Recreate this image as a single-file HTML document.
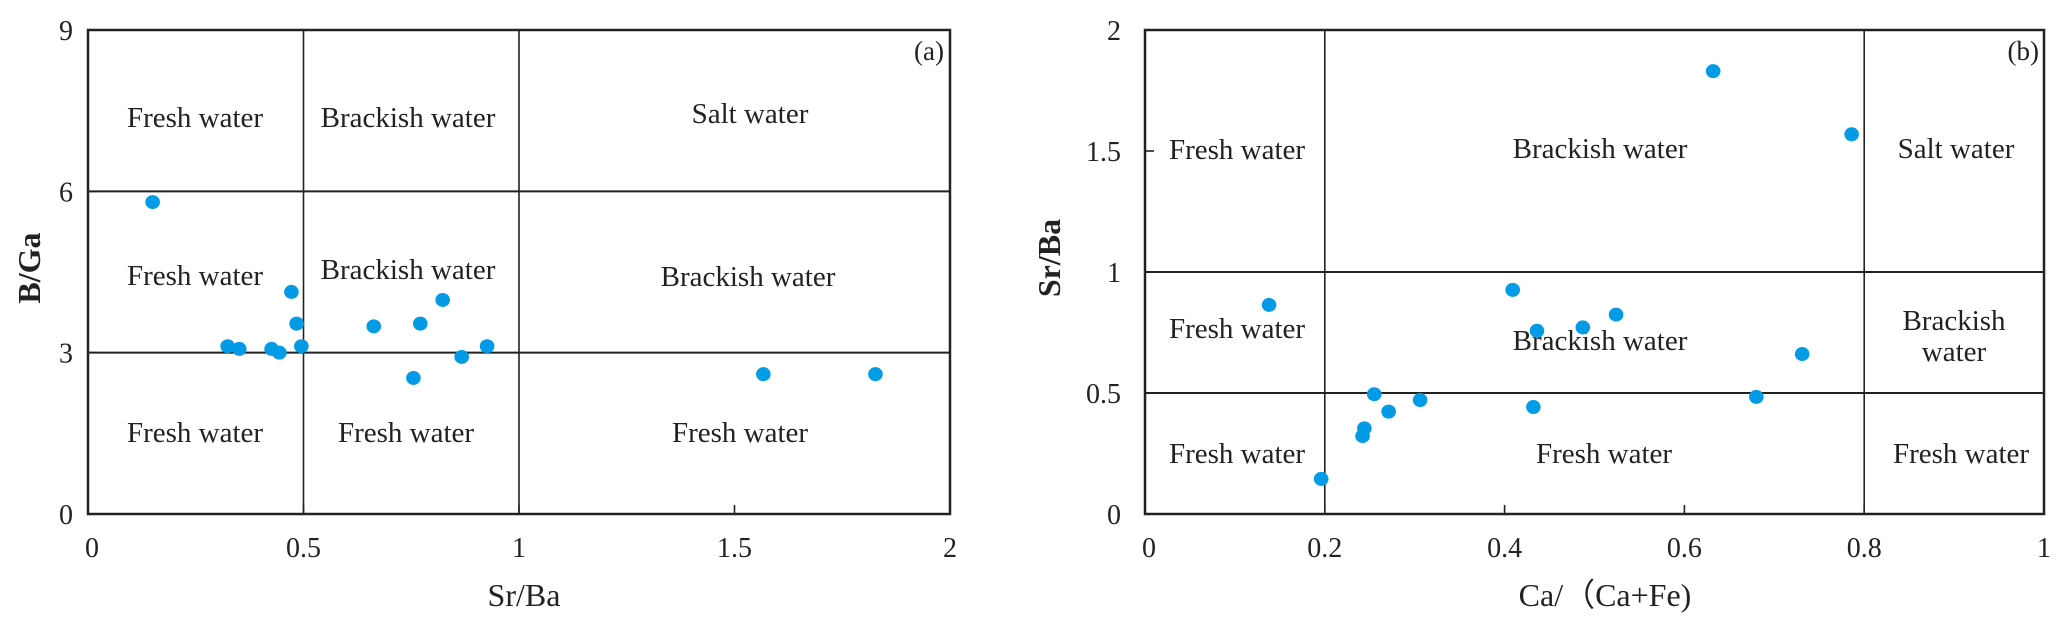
<!DOCTYPE html>
<html><head><meta charset="utf-8"><style>
html,body{margin:0;padding:0;background:#fff;}
svg{display:block;font-family:"Liberation Serif",serif;}
</style></head><body>
<svg id="s" width="2067" height="627" viewBox="0 0 2067 627" xmlns="http://www.w3.org/2000/svg"></svg>
<script>
// Chart (a) data
const aSrBa = [0.150,0.472,0.484,0.495,0.324,0.351,0.426,0.444,0.663,0.771,0.823,0.926,0.867,0.755,1.567,1.827];
const aBGa  = [5.80,4.13,3.54,3.12,3.12,3.07,3.07,3.00,3.49,3.54,3.98,3.12,2.92,2.53,2.60,2.60];
const aXTicks = [0,0.5,1,1.5,2];
const aYTicks = [0,3,6,9];
// Chart (b) data
const bCa   = [0.138,0.196,0.242,0.244,0.255,0.271,0.306,0.432,0.436,0.487,0.524,0.680,0.731,0.409,0.632,0.786];
const bSrBa = [0.864,0.145,0.322,0.354,0.495,0.423,0.471,0.442,0.757,0.771,0.824,0.484,0.661,0.926,1.830,1.569];
const bXTicks = [0,0.2,0.4,0.6,0.8,1];
const bYTicks = [0,0.5,1,1.5,2];

const NS="http://www.w3.org/2000/svg";
const svg=document.getElementById('s');
function mk(tag,attrs,parent){const e=document.createElementNS(NS,tag);for(const k in attrs)e.setAttribute(k,attrs[k]);(parent||svg).appendChild(e);return e;}
function txt(x,y,s,size,anchor,weight,parent){const t=mk('text',{x:x,y:y,'font-size':size,'text-anchor':anchor||'middle','font-weight':weight||'normal',fill:'#222'},parent);t.textContent=s;return t;}

function chart(o){
  const g=mk('g',{});
  
  
  const X=v=>o.x0+(v-o.xmin)/(o.xmax-o.xmin)*(o.x1-o.x0);
  const Y=v=>o.y0-(v-o.ymin)/(o.ymax-o.ymin)*(o.y0-o.y1);
  o.vlines.forEach(v=>{const l=mk('line',{x1:X(v),x2:X(v),y1:o.y1,y2:o.y0,stroke:'#222','stroke-width':1.6},g);});
  o.hlines.forEach(v=>{const l=mk('line',{x1:o.x0,x2:o.x1,y1:Y(v),y2:Y(v),stroke:'#222','stroke-width':2},g);});
  const fr=mk('rect',{x:o.x0,y:o.y1,width:o.x1-o.x0,height:o.y0-o.y1,fill:'none',stroke:'#222','stroke-width':2.5},g);
  
  o.xt.forEach(v=>{mk('line',{x1:X(v),x2:X(v),y1:o.y0,y2:o.y0-9,stroke:'#222','stroke-width':1.6},g);
    const t=txt(X(v)+(v===o.xmin?4:0),557,String(v),28,'middle','normal',g);});
  o.yt.forEach(v=>{mk('line',{x1:o.x0,x2:o.x0+9,y1:Y(v),y2:Y(v),stroke:'#222','stroke-width':1.6},g);
    const t=txt(o.ylx,Y(v)+10,String(v),28,'end','normal',g);});
  o.labels.forEach(L=>{const t=txt(L[0],L[1],L[2],29,'middle','normal',g);});
  for(let i=0;i<o.xs.length;i++){
    const c=mk('ellipse',{cx:X(o.xs[i]),cy:Y(o.ys[i]),rx:7.3,ry:7,fill:'#039be5'},g);
    
    
  }
  const pl=txt(o.plx,60,o.panel,27,'end','normal',g);
  const xt=txt(o.xtx,606,o.xtitle,32,'middle','normal',g);
  const yt=txt(0,0,o.ytitle,32,'middle','bold',g);yt.setAttribute('transform','translate('+(o.ytx+11)+','+o.yty+') rotate(-90)');
  
}

chart({name:'chart-a',x0:88,x1:950,y0:514,y1:30,xmin:0,xmax:2,ymin:0,ymax:9,
  vlines:[0.5,1],hlines:[3,6],xt:aXTicks,yt:aYTicks,ylx:73,xs:aSrBa,ys:aBGa,
  labels:[[195,127,'Fresh water'],[408,127,'Brackish water'],[750,123,'Salt water'],
    [195,285,'Fresh water'],[408,279,'Brackish water'],[748,286,'Brackish water'],
    [195,442,'Fresh water'],[406,442,'Fresh water'],[740,442,'Fresh water']],
  panel:'(a)',plx:944,xtitle:'Sr/Ba',xtx:524,ytitle:'B/Ga',ytx:29,yty:268});

chart({name:'chart-b',x0:1145,x1:2044,y0:514,y1:30,xmin:0,xmax:1,ymin:0,ymax:2,
  vlines:[0.2,0.8],hlines:[0.5,1],xt:bXTicks,yt:bYTicks,ylx:1121,xs:bCa,ys:bSrBa,
  labels:[[1237,159,'Fresh water'],[1600,158,'Brackish water'],[1956,158,'Salt water'],
    [1237,338,'Fresh water'],[1600,350,'Brackish water'],[1954,330,'Brackish'],[1954,361,'water'],
    [1237,463,'Fresh water'],[1604,463,'Fresh water'],[1961,463,'Fresh water']],
  panel:'(b)',plx:2039,xtitle:'Ca/（Ca+Fe)',xtx:1605,ytitle:'Sr/Ba',ytx:1049,yty:258});
</script>
</body></html>
